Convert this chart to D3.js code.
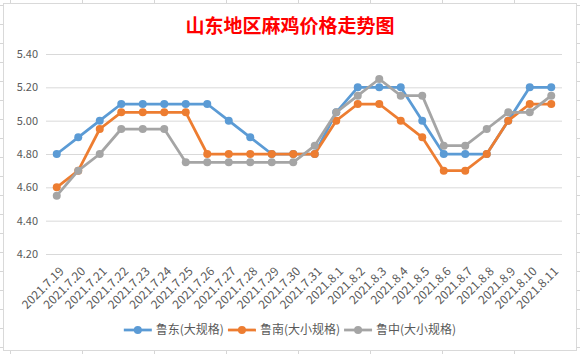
<!DOCTYPE html>
<html>
<head>
<meta charset="utf-8">
<script src="https://cdn.jsdelivr.net/npm/d3@7"></script>
<style>
  html, body { margin: 0; padding: 0; background: #fff; }
  svg { display: block; }
  text { font-family: "Noto Sans CJK SC", "Noto Sans", sans-serif; }
</style>
</head>
<body>
<div id="chart"></div>
<script>
// data
const dates = ['2021.7.19','2021.7.20','2021.7.21','2021.7.22','2021.7.23','2021.7.24','2021.7.25',
  '2021.7.26','2021.7.27','2021.7.28','2021.7.29','2021.7.30','2021.7.31','2021.8.1','2021.8.2',
  '2021.8.3','2021.8.4','2021.8.5','2021.8.6','2021.8.7','2021.8.8','2021.8.9','2021.8.10','2021.8.11'];
const ludong = [4.80,4.90,5.00,5.10,5.10,5.10,5.10,5.10,5.00,4.90,4.80,4.80,4.80,5.05,5.20,5.20,5.20,5.00,4.80,4.80,4.80,5.00,5.20,5.20];
const lunan  = [4.60,4.70,4.95,5.05,5.05,5.05,5.05,4.80,4.80,4.80,4.80,4.80,4.80,5.00,5.10,5.10,5.00,4.90,4.70,4.70,4.80,5.00,5.10,5.10];
const luzhong= [4.55,4.70,4.80,4.95,4.95,4.95,4.75,4.75,4.75,4.75,4.75,4.75,4.85,5.05,5.15,5.25,5.15,5.15,4.85,4.85,4.95,5.05,5.05,5.15];
const seriesNames = ['鲁东(大规格)','鲁南(大小规格)','鲁中(大小规格)'];
const yTicks = [4.20,4.40,4.60,4.80,5.00,5.20,5.40];
const title = '山东地区麻鸡价格走势图';

const W = 580, H = 354;
const colors = ['#5b9bd5','#ed7d31','#a5a5a5'];
const series = [ludong, lunan, luzhong].map((v, i) => ({name: seriesNames[i], values: v, color: colors[i]}));

const svg = d3.select('#chart').append('svg').attr('width', W).attr('height', H);

// spreadsheet grid behind the chart object
const sheet = svg.append('g').attr('stroke', '#d6d6d6').attr('stroke-width', 1);
sheet.selectAll('.col').data(d3.range(10.5, W, 72)).join('line')
  .attr('x1', d => d).attr('x2', d => d).attr('y1', 0).attr('y2', H);
sheet.selectAll('.row').data(d3.range(5.5, H, 19)).join('line')
  .attr('x1', 0).attr('x2', W).attr('y1', d => d).attr('y2', d => d);

// chart box
svg.append('rect').attr('x', 3.5).attr('y', 3.5).attr('width', 573).attr('height', 347)
  .attr('fill', '#fff').attr('stroke', '#d9d9d9');

// title
svg.append('text').attr('x', 290).attr('y', 33).attr('text-anchor', 'middle')
  .attr('fill', '#ff0000').attr('font-size', '19px').attr('font-weight', 'bold')
  .text(title);

// scales
const plot = {left: 46, right: 562, top: 54, bottom: 254};
const x = d3.scaleBand().domain(dates).range([plot.left, plot.right]);
const cx = d => x(d) + x.bandwidth() / 2;
const y = d3.scaleLinear().domain([4.2, 5.4]).range([plot.bottom, plot.top]);

// y axis with gridlines
const yAxis = svg.append('g').attr('transform', `translate(${plot.left},0)`)
  .call(d3.axisLeft(y).tickValues(yTicks).tickFormat(d3.format('.2f'))
    .tickSize(-(plot.right - plot.left)).tickPadding(8));
yAxis.select('.domain').remove();
yAxis.selectAll('line').attr('stroke', '#d9d9d9');
yAxis.selectAll('text').attr('fill', '#595959').attr('font-size', '11px')
  .attr('font-family', '"Open Sans", "Noto Sans", sans-serif');

// x axis labels
const xAxis = svg.append('g').attr('transform', `translate(0,${plot.bottom})`)
  .call(d3.axisBottom(x).tickSize(0));
xAxis.select('.domain').remove();
xAxis.selectAll('text')
  .attr('fill', '#595959').attr('font-size', '12px')
  .attr('font-family', '"Open Sans", "Noto Sans", sans-serif')
  .attr('text-anchor', 'end')
  .attr('x', 0).attr('y', 0).attr('dy', '0.35em')
  .attr('transform', 'translate(5,15) rotate(-45)');

// lines and markers
const line = d3.line().x((d, i) => cx(dates[i])).y(d => y(d));
const g = svg.selectAll('.series').data(series).join('g').attr('class', 'series');
g.append('path')
  .attr('d', d => line(d.values))
  .attr('fill', 'none')
  .attr('stroke', d => d.color)
  .attr('stroke-width', 2.75)
  .attr('stroke-linejoin', 'round');
g.each(function(s) {
  d3.select(this).selectAll('circle').data(s.values).join('circle')
    .attr('cx', (d, i) => cx(dates[i]))
    .attr('cy', d => y(d))
    .attr('r', 4)
    .attr('fill', s.color);
});

// legend
const legend = svg.append('g').attr('transform', 'translate(0,330)');
const items = legend.selectAll('g').data(series).join('g');
items.append('line').attr('x1', 0).attr('x2', 28).attr('stroke', d => d.color).attr('stroke-width', 2.75);
items.append('circle').attr('cx', 14).attr('r', 4).attr('fill', d => d.color);
items.append('text').attr('x', 32).attr('dy', '0.35em')
  .attr('fill', '#595959').attr('font-size', '12px')
  .text(d => d.name);
let widths = [];
items.each(function() { widths.push(32 + d3.select(this).select('text').node().getComputedTextLength()); });
const gap = 4;
const total = d3.sum(widths) + gap * (widths.length - 1);
let pos = 290 - total / 2;
items.attr('transform', (d, i) => {
  const t = `translate(${pos},0)`;
  pos += widths[i] + gap;
  return t;
});
</script>
</body>
</html>
